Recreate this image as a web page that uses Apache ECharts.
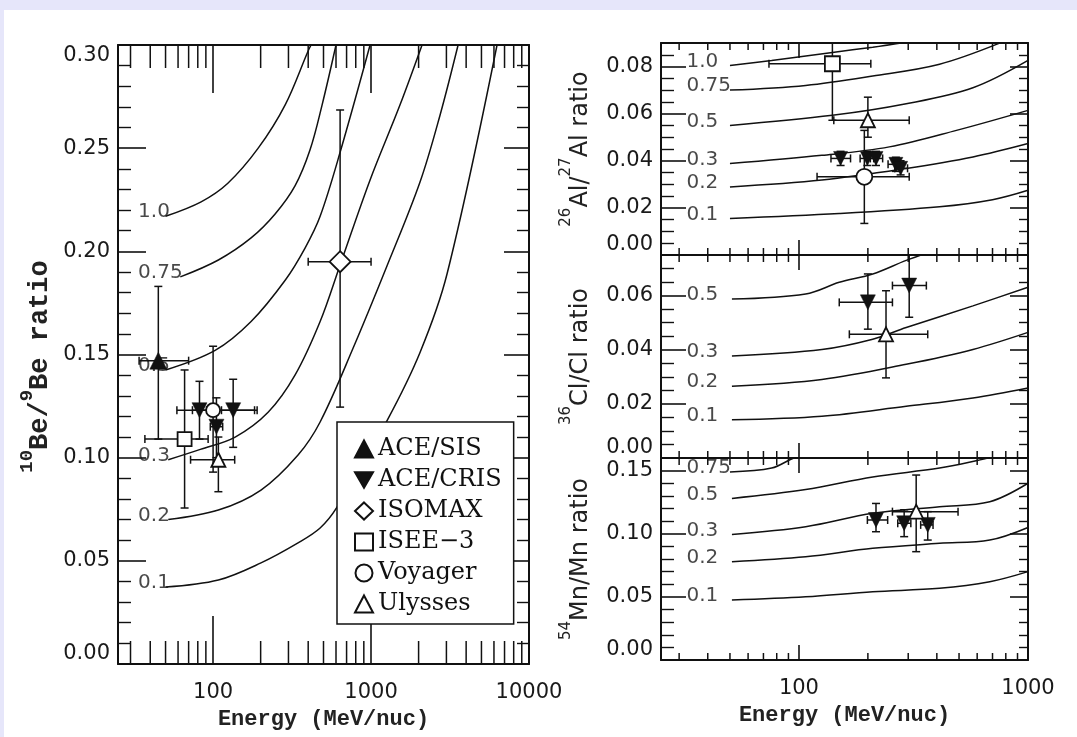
<!DOCTYPE html>
<html><head><meta charset="utf-8">
<script src="https://cdn.jsdelivr.net/npm/echarts@6/dist/echarts.min.js"></script>
<style>
html,body{margin:0;padding:0;background:#E6E6FA;overflow:hidden;}
#paper{position:absolute;left:4px;top:10px;right:0;bottom:0;background:#fff;}
#chart{position:absolute;left:0;top:0;width:1077px;height:737px;}
</style></head><body>
<div id="paper"></div>
<div id="chart"></div>
<script>
// ================= DATA =================
// Curve labels (path length / escape parameter)
const beLevels = ['1.0','0.75','0.5','0.3','0.2','0.1'];
// Left panel: 10Be/9Be model curves [Energy MeV/nuc, ratio]
const beCurve_1_0  = [[50,0.217],[84,0.224],[124,0.233],[193,0.250],[286,0.271],[399,0.297],[417,0.300]];
const beCurve_0_75 = [[62,0.1876],[108,0.1958],[174,0.2065],[247,0.2181],[330,0.2317],[411,0.2492],[490,0.271],[600,0.300]];
const beCurve_0_5  = [[50,0.1425],[103,0.152],[174,0.166],[286,0.186],[382,0.2016],[476,0.217],[637,0.248],[986,0.300]];
const beCurve_0_3  = [[52,0.099],[83,0.104],[138,0.110],[223,0.122],[330,0.140],[476,0.166],[637,0.1934],[986,0.2346],[1526,0.271],[2103,0.300]];
const beCurve_0_2  = [[52,0.070],[108,0.0746],[201,0.0843],[345,0.1013],[476,0.1173],[769,0.153],[1263,0.193],[2042,0.2336],[2736,0.2661],[3557,0.300]];
const beCurve_0_1  = [[50,0.0373],[108,0.0407],[201,0.049],[345,0.0587],[476,0.0659],[609,0.076],[1263,0.118],[2042,0.151],[3027,0.189],[6275,0.300]];
// Left panel measurements [E, ratio, Elow, Ehigh, ratioLow, ratioHigh]
const beACESIS  = [[45,0.147,34,70,0.109,0.183]];
const beACECRIS = [[82,0.123,74,91,0.109,0.137],[105,0.115,96,115,0.100,0.129],[134,0.123,113,183,0.105,0.138]];
const beISOMAX  = [[637,0.195,400,1000,0.1245,0.2685]];
const beISEE3   = [[66,0.109,37,93,0.0756,0.1425]];
const beVoyager = [[100,0.123,59,190,0.093,0.154]];
const beUlysses = [[108,0.099,72,137,0.0835,0.110]];

// Right top: 26Al/27Al
const alLevels = ['1.0','0.75','0.5','0.3','0.2','0.1'];
const alCurve_1_0  = [[50,0.0804],[76,0.0826],[140,0.0860],[210,0.0882],[294,0.0903]];
const alCurve_0_75 = [[50,0.070],[107,0.072],[210,0.076],[411,0.081],[754,0.090],[1000,0.096]];
const alCurve_0_5  = [[50,0.055],[140,0.0593],[294,0.0642],[575,0.0710],[1000,0.0826]];
const alCurve_0_3  = [[50,0.0388],[126,0.0423],[248,0.0459],[487,0.0529],[1000,0.0614]];
const alCurve_0_2  = [[50,0.0289],[126,0.0318],[294,0.0367],[575,0.0416],[1000,0.0473]];
const alCurve_0_1  = [[50,0.0155],[150,0.0176],[411,0.0205],[700,0.0235],[1000,0.0275]];
const alACECRIS = [[152,0.041,138,168,0.038,0.044],[199,0.041,185,212,0.038,0.044],[217,0.041,205,232,0.038,0.044],[265,0.0385,245,285,0.0355,0.0415],[278,0.0368,262,298,0.034,0.040]];
const alISEE3   = [[140,0.0812,74,206,0.0572,0.105]];
const alVoyager = [[193,0.0332,120,303,0.0134,0.0529]];
const alUlysses = [[200,0.0572,142,303,0.050,0.067]];

// Right middle: 36Cl/Cl
const clLevels = ['0.5','0.3','0.2','0.1'];
const clCurve_0_5 = [[51,0.0587],[107,0.0606],[150,0.0649],[210,0.068],[294,0.073],[400,0.077]];
const clCurve_0_3 = [[51,0.0377],[126,0.0401],[210,0.0439],[294,0.0482],[575,0.0562],[1000,0.0631]];
const clCurve_0_2 = [[51,0.0265],[126,0.029],[294,0.0346],[575,0.0401],[1000,0.0464]];
const clCurve_0_1 = [[51,0.0141],[126,0.0154],[294,0.0191],[575,0.0222],[1000,0.0259]];
const clACECRIS = [[200,0.0575,150,256,0.0476,0.068],[303,0.0637,256,360,0.052,0.076]];
const clUlysses = [[240,0.0457,166,365,0.0296,0.0618]];

// Right bottom: 54Mn/Mn
const mnLevels = ['0.75','0.5','0.3','0.2','0.1'];
const mnCurve_0_75 = [[50,0.149],[76,0.152],[95,0.160],[110,0.163]];
const mnCurve_0_5  = [[51,0.128],[107,0.135],[210,0.145],[411,0.152],[600,0.158],[700,0.161]];
const mnCurve_0_3  = [[51,0.0995],[107,0.1056],[210,0.1162],[411,0.1214],[681,0.1254],[1000,0.140]];
const mnCurve_0_2  = [[51,0.0779],[107,0.0818],[210,0.0885],[411,0.0924],[681,0.095],[1000,0.105]];
const mnCurve_0_1  = [[51,0.0475],[107,0.0501],[210,0.0541],[411,0.0568],[681,0.062],[1000,0.070]];
const mnACECRIS = [[217,0.1109,199,244,0.1016,0.124],[288,0.1083,270,308,0.0977,0.119],[365,0.107,340,385,0.095,0.1175]];
const mnUlysses = [[325,0.1175,256,495,0.0858,0.1465]];

// Axis tick labels and minor tick positions
const xTickLabelsLeft  = [100,1000,10000];
const xTickLabelsRight = [100,1000];
const xMinorLeft  = [30,40,50,60,70,80,90,200,300,400,500,600,700,800,900,2000,3000,4000,5000,6000,7000,8000,9000];
const xMinorRight = [30,40,50,60,70,80,90,200,300,400,500,600,700,800,900];
const legendNames = ['ACE/SIS','ACE/CRIS','ISOMAX','ISEE\u22123','Voyager','Ulysses'];

// ================= STYLE / BUILD =================
const INK = '#111';
const SANS = 'DejaVu Sans';
const MONO = 'Liberation Mono';
const SERIF = 'DejaVu Serif';
const DOWN_TRI = 'path://M0,0L20,0L10,17.3Z';
const TICK_FS = 21;

const grids = [
  {left:118, top:45, width:411, height:619},
  {left:661, top:43, width:367, height:212},
  {left:661, top:255, width:367, height:203},
  {left:661, top:458, width:367, height:202}
].map(g => Object.assign({outerBoundsMode:'none', containLabel:false}, g));

function xPair(gi, min, max, labelVals, majLen, name) {
  const base = {type:'log', logBase:10, gridIndex:gi, min:min, max:max,
    axisLine:{show:true, onZero:false, lineStyle:{color:INK, width:2}},
    axisTick:{show:true, inside:true, length:majLen, lineStyle:{color:INK, width:1.6}},
    minorTick:{show:false}, splitLine:{show:false}, minorSplitLine:{show:false}};
  const bottom = Object.assign({}, base, {position:'bottom',
    axisLabel:{show:!!labelVals, margin:18, fontFamily:SANS, fontSize:TICK_FS, color:'#1a1a1a',
      formatter: v => { const r = Math.round(v); return (labelVals && labelVals.indexOf(r) >= 0) ? String(r) : ''; }},
    name: name || '', nameLocation:'middle', nameGap:44,
    nameTextStyle:{fontFamily:MONO, fontSize:22, fontWeight:'bold', color:'#222'}});
  const top = Object.assign({}, base, {position:'top', axisLabel:{show:false}});
  return [bottom, top];
}

function yPair(gi, min, max, interval, minorSplit, lens, name, rich, nameGap, showMax, namePad) {
  const base = {type:'value', gridIndex:gi, min:min, max:max, interval:interval,
    axisLine:{show:true, onZero:false, lineStyle:{color:INK, width:2}},
    splitLine:{show:false}, minorSplitLine:{show:false}};
  const left = Object.assign({}, base, {position:'left',
    axisTick:{show:true, inside:true, length:lens[0], lineStyle:{color:INK, width:1.6}},
    minorTick:{show:true, splitNumber:minorSplit, length:lens[1], lineStyle:{color:INK, width:1.4}},
    axisLabel:{show:true, margin:8, fontFamily:SANS, fontSize:TICK_FS, color:'#1a1a1a',
      formatter: v => v.toFixed(2), showMaxLabel:showMax,
      verticalAlignMinLabel:'bottom', verticalAlignMaxLabel:'top'},
    name:name, nameLocation:'middle', nameGap:nameGap,
    nameTextStyle:{rich:rich, padding:namePad || 0}});
  const right = Object.assign({}, base, {position:'right',
    axisTick:{show:true, inside:true, length:lens[2], lineStyle:{color:INK, width:1.6}},
    minorTick:{show:true, splitNumber:minorSplit, length:lens[3], lineStyle:{color:INK, width:1.4}},
    axisLabel:{show:false}});
  return [left, right];
}

const monoRich = {
  n:{fontFamily:MONO, fontSize:27, fontWeight:'bold', color:'#222', lineHeight:36, verticalAlign:'bottom'},
  s:{fontFamily:MONO, fontSize:19, fontWeight:'bold', color:'#222', verticalAlign:'top'}
};
const sansRich = {
  n:{fontFamily:SANS, fontSize:24, color:'#222', lineHeight:34, verticalAlign:'bottom'},
  s:{fontFamily:SANS, fontSize:15, color:'#222', verticalAlign:'top'}
};

const xAxes = [].concat(
  xPair(0, 25, 10000, xTickLabelsLeft, 48, 'Energy (MeV/nuc)'),
  xPair(1, 25, 1000, null, 15),
  xPair(2, 25, 1000, null, 15),
  xPair(3, 25, 1000, xTickLabelsRight, 15, 'Energy (MeV/nuc)')
);
const yAxes = [].concat(
  yPair(0, 0, 0.30, 0.05, 5, [28,13,25,12], '{s|10}{n|Be/}{s|9}{n|Be ratio}', monoRich, 64, true, [0,24,0,0]),
  yPair(1, 0, 0.09, 0.02, 4, [25,13,18,9], '{s|26}{n|Al/}{s|27}{n|Al ratio}', sansRich, 68, false),
  yPair(2, 0, 0.075, 0.02, 4, [25,13,18,9], '{s|36}{n|Cl/Cl ratio}', sansRich, 68, false),
  yPair(3, 0, 0.16, 0.05, 5, [25,13,18,9], '{s|54}{n|Mn/Mn ratio}', sansRich, 68, false)
);

const series = [];

function minorTicks(gi, vals, len) {
  series.push({type:'custom', name:'_minor'+gi, xAxisIndex:2*gi, yAxisIndex:2*gi, silent:true, clip:false, z:1,
    data: vals.map(v => [v, 0]),
    renderItem: function (params, api) {
      const x = api.coord([api.value(0), 0])[0];
      const cs = params.coordSys;
      const st = {stroke:INK, lineWidth:1.5};
      return {type:'group', children:[
        {type:'line', shape:{x1:x, y1:cs.y + cs.height, x2:x, y2:cs.y + cs.height - len}, style:st},
        {type:'line', shape:{x1:x, y1:cs.y, x2:x, y2:cs.y + len}, style:st}
      ]};
    }});
}

function curves(gi, list) {
  list.forEach((c, i) => series.push({type:'line', name:'_curve'+gi+'_'+i, xAxisIndex:2*gi, yAxisIndex:2*gi,
    data:c, showSymbol:false, symbol:'none', smooth:0.35, clip:true, silent:true, z:2,
    lineStyle:{color:INK, width:1.5}}));
}

function curveLabels(gi, list, levels, labelE) {
  series.push({type:'scatter', name:'_lab'+gi, xAxisIndex:2*gi, yAxisIndex:2*gi, silent:true, z:3,
    symbolSize:0, data: list.map((c, i) => [labelE, c[0][1], levels[i]]),
    label:{show:true, position:'right', distance:0, offset:[0,-4], formatter: p => p.data[2],
      fontFamily:SANS, fontSize:20, color:'#1a1a1a'}});
}

function points(gi, name, pts, symbol, size, filled) {
  series.push({type:'custom', name:'_err_'+name+gi, xAxisIndex:2*gi, yAxisIndex:2*gi, silent:true, clip:true, z:4,
    data: pts,
    renderItem: function (params, api) {
      const E = api.value(0), v = api.value(1);
      const pL = api.coord([api.value(2), v]), pR = api.coord([api.value(3), v]);
      const pB = api.coord([E, api.value(4)]), pT = api.coord([E, api.value(5)]);
      const c = 4, st = {stroke:INK, lineWidth:1.5};
      return {type:'group', children:[
        {type:'line', shape:{x1:pL[0], y1:pL[1], x2:pR[0], y2:pR[1]}, style:st},
        {type:'line', shape:{x1:pL[0], y1:pL[1]-c, x2:pL[0], y2:pL[1]+c}, style:st},
        {type:'line', shape:{x1:pR[0], y1:pR[1]-c, x2:pR[0], y2:pR[1]+c}, style:st},
        {type:'line', shape:{x1:pB[0], y1:pB[1], x2:pT[0], y2:pT[1]}, style:st},
        {type:'line', shape:{x1:pB[0]-c, y1:pB[1], x2:pB[0]+c, y2:pB[1]}, style:st},
        {type:'line', shape:{x1:pT[0]-c, y1:pT[1], x2:pT[0]+c, y2:pT[1]}, style:st}
      ]};
    }});
  series.push({type:'scatter', name:name, xAxisIndex:2*gi, yAxisIndex:2*gi, silent:true, clip:true, z:5,
    data: pts.map(p => [p[0], p[1]]), symbol:symbol, symbolSize:size,
    itemStyle:{color: filled ? INK : '#fff', borderColor:INK, borderWidth: filled ? 0.5 : 1.8, opacity:1}});
}

// Left panel
minorTicks(0, xMinorLeft, 23);
const beCurves = [beCurve_1_0, beCurve_0_75, beCurve_0_5, beCurve_0_3, beCurve_0_2, beCurve_0_1];
curves(0, beCurves);
curveLabels(0, beCurves, beLevels, 33.5);
points(0, 'ACE/SIS', beACESIS, 'triangle', 17, true);
points(0, 'ACE/CRIS', beACECRIS, DOWN_TRI, 15, true);
points(0, 'ISOMAX', beISOMAX, 'diamond', 21, false);
points(0, 'ISEE\u22123', beISEE3, 'rect', 14, false);
points(0, 'Voyager', beVoyager, 'circle', 14, false);
points(0, 'Ulysses', beUlysses, 'triangle', 14, false);

// Right top
minorTicks(1, xMinorRight, 7);
const alCurves = [alCurve_1_0, alCurve_0_75, alCurve_0_5, alCurve_0_3, alCurve_0_2, alCurve_0_1];
curves(1, alCurves);
curveLabels(1, alCurves, alLevels, 32.3);
points(1, 'ACE/CRIS', alACECRIS, DOWN_TRI, 14, true);
points(1, 'ISEE\u22123', alISEE3, 'rect', 15, false);
points(1, 'Voyager', alVoyager, 'circle', 16, false);
points(1, 'Ulysses', alUlysses, 'triangle', 14, false);

// Right middle
minorTicks(2, xMinorRight, 7);
const clCurves = [clCurve_0_5, clCurve_0_3, clCurve_0_2, clCurve_0_1];
curves(2, clCurves);
curveLabels(2, clCurves, clLevels, 32.3);
points(2, 'ACE/CRIS', clACECRIS, DOWN_TRI, 15, true);
points(2, 'Ulysses', clUlysses, 'triangle', 14, false);

// Right bottom
minorTicks(3, xMinorRight, 7);
const mnCurves = [mnCurve_0_75, mnCurve_0_5, mnCurve_0_3, mnCurve_0_2, mnCurve_0_1];
curves(3, mnCurves);
curveLabels(3, mnCurves, mnLevels, 32.3);
points(3, 'ACE/CRIS', mnACECRIS, DOWN_TRI, 15, true);
points(3, 'Ulysses', mnUlysses, 'triangle', 14, false);

const chart = echarts.init(document.getElementById('chart'), null, {renderer:'canvas'});
chart.setOption({
  animation:false,
  backgroundColor:'transparent',
  grid: grids,
  xAxis: xAxes,
  yAxis: yAxes,
  legend: {data:legendNames, orient:'vertical', left:337, top:422, itemWidth:18, itemHeight:17, itemGap:7,
    padding:[15,12,8,17], backgroundColor:'#fff', borderColor:INK, borderWidth:1.5, borderRadius:0,
    selectedMode:false, z:10,
    textStyle:{fontFamily:SERIF, fontSize:24, color:'#111', lineHeight:24}},
  series: series
});
</script></body></html>
